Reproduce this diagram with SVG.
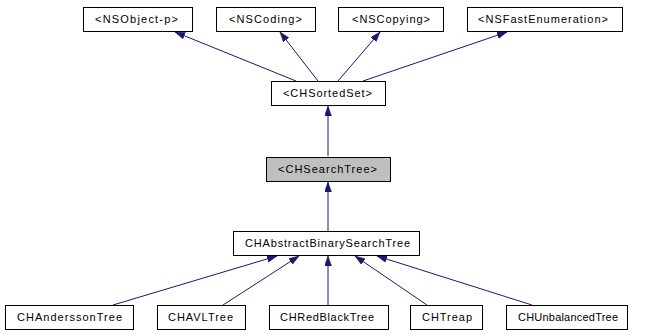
<svg xmlns="http://www.w3.org/2000/svg" width="645" height="336" viewBox="0 0 645 336">
  <style>
    .box { fill: #ffffff; stroke: #000000; stroke-width: 1; }
    .cur { fill: #bfbfbf; }
    .lbl { font-family: "Liberation Sans", Arial, sans-serif; font-size: 11px; fill: #000000; text-anchor: start; }
    .edge { stroke: #191970; stroke-width: 1; fill: none; marker-end: url(#inherit); }
  </style>
  <defs>
    <marker id="inherit" markerUnits="userSpaceOnUse" markerWidth="11" markerHeight="8" refX="10" refY="3.5" orient="auto">
      <path d="M0,0 L10,3.5 L0,7 z" fill="#191970" stroke="#191970" stroke-width="0.5"/>
    </marker>
  </defs>

  <g id="edges">
    <line class="edge" x1="296" y1="81" x2="175" y2="32"/>
    <line class="edge" x1="318" y1="81" x2="280" y2="32"/>
    <line class="edge" x1="338" y1="81" x2="380" y2="32"/>
    <line class="edge" x1="363" y1="81" x2="507" y2="32"/>
    <line class="edge" x1="328" y1="156" x2="328" y2="106"/>
    <line class="edge" x1="328" y1="231" x2="328" y2="182"/>
    <line class="edge" x1="113" y1="305" x2="277" y2="256"/>
    <line class="edge" x1="223" y1="305" x2="299" y2="256"/>
    <line class="edge" x1="328" y1="305" x2="328" y2="256"/>
    <line class="edge" x1="427" y1="305" x2="355" y2="256"/>
    <line class="edge" x1="532" y1="305" x2="377" y2="256"/>
  </g>

  <g id="NSObject-p">
    <rect class="box" x="83.5" y="7.5" width="109" height="24"/>
    <text class="lbl" x="95" y="23" textLength="83" lengthAdjust="spacing">&lt;NSObject-p&gt;</text>
  </g>
  <g id="NSCoding">
    <rect class="box" x="216.5" y="7.5" width="99" height="24"/>
    <text class="lbl" x="229" y="23" textLength="73" lengthAdjust="spacing">&lt;NSCoding&gt;</text>
  </g>
  <g id="NSCopying">
    <rect class="box" x="338.5" y="7.5" width="105" height="24"/>
    <text class="lbl" x="352" y="23" textLength="78" lengthAdjust="spacing">&lt;NSCopying&gt;</text>
  </g>
  <g id="NSFastEnumeration">
    <rect class="box" x="467.5" y="7.5" width="155" height="24"/>
    <text class="lbl" x="478" y="23" textLength="130" lengthAdjust="spacing">&lt;NSFastEnumeration&gt;</text>
  </g>
  <g id="CHSortedSet">
    <rect class="box" x="271.5" y="81.5" width="114" height="24"/>
    <text class="lbl" x="283" y="97" textLength="89" lengthAdjust="spacing">&lt;CHSortedSet&gt;</text>
  </g>
  <g id="CHSearchTree">
    <rect class="box cur" x="266.5" y="157.5" width="124" height="24"/>
    <text class="lbl" x="278" y="173" textLength="99" lengthAdjust="spacing">&lt;CHSearchTree&gt;</text>
  </g>
  <g id="CHAbstractBinarySearchTree">
    <rect class="box" x="233.5" y="231.5" width="186" height="24"/>
    <text class="lbl" x="245" y="247" textLength="165" lengthAdjust="spacing">CHAbstractBinarySearchTree</text>
  </g>
  <g id="CHAnderssonTree">
    <rect class="box" x="5.5" y="305.5" width="128" height="24"/>
    <text class="lbl" x="17" y="321" textLength="105" lengthAdjust="spacing">CHAnderssonTree</text>
  </g>
  <g id="CHAVLTree">
    <rect class="box" x="157.5" y="305.5" width="88" height="24"/>
    <text class="lbl" x="168" y="321" textLength="65" lengthAdjust="spacing">CHAVLTree</text>
  </g>
  <g id="CHRedBlackTree">
    <rect class="box" x="269.5" y="305.5" width="119" height="24"/>
    <text class="lbl" x="280" y="321" textLength="94" lengthAdjust="spacing">CHRedBlackTree</text>
  </g>
  <g id="CHTreap">
    <rect class="box" x="410.5" y="305.5" width="72" height="24"/>
    <text class="lbl" x="422" y="321" textLength="50" lengthAdjust="spacing">CHTreap</text>
  </g>
  <g id="CHUnbalancedTree">
    <rect class="box" x="506.5" y="305.5" width="121" height="24"/>
    <text class="lbl" x="518" y="321" textLength="100" lengthAdjust="spacing">CHUnbalancedTree</text>
  </g>
</svg>
